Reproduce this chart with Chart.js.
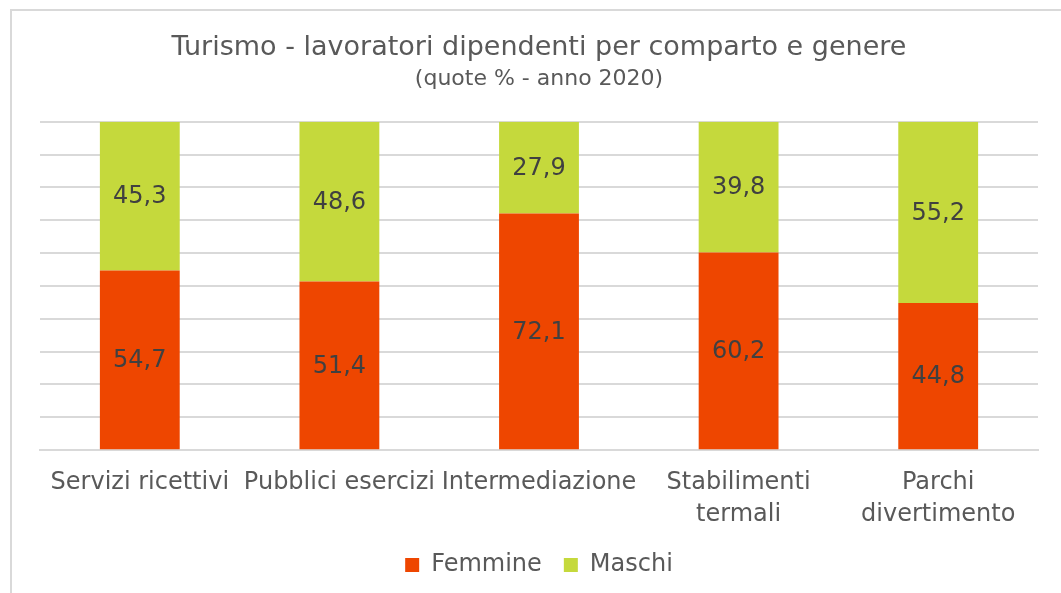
<!DOCTYPE html>
<html>
<head>
<meta charset="utf-8">
<script src="https://cdn.jsdelivr.net/npm/chart.js@4.4.1/dist/chart.umd.min.js"></script>
<style>
  html, body { margin: 0; padding: 0; background: #ffffff; overflow: hidden; width: 1061px; height: 593px; }
  #frame { position: absolute; left: 10px; top: 9px; width: 1200px; height: 700px; border-top: 2px solid #d9d9d9; border-left: 2px solid #d9d9d9; }
  #wrap { position: absolute; left: 0; top: 0; width: 1061px; height: 593px; }
</style>
</head>
<body>
<div id="frame"></div>
<div id="wrap"><canvas id="c" width="1061" height="593"></canvas></div>
<script>
const categories = ["Servizi ricettivi", "Pubblici esercizi", "Intermediazione", ["Stabilimenti", "termali"], ["Parchi", "divertimento"]];
const femmine = [54.7, 51.4, 72.1, 60.2, 44.8];
const maschi = [45.3, 48.6, 27.9, 39.8, 55.2];
const seriesNames = ["Femmine", "Maschi"];
const yTicks = [0, 10, 20, 30, 40, 50, 60, 70, 80, 90, 100];

const FONT = "'DejaVu Sans', Verdana, sans-serif";

const labelPlugin = {
  id: 'barLabels',
  afterDatasetsDraw(chart) {
    const ctx = chart.ctx;
    ctx.save();
    ctx.font = "24px " + FONT;
    ctx.fillStyle = "#404040";
    ctx.textAlign = "center";
    ctx.textBaseline = "middle";
    chart.data.datasets.forEach((ds, di) => {
      const meta = chart.getDatasetMeta(di);
      meta.data.forEach((bar, i) => {
        const v = ds.data[i];
        const yMid = (bar.y + bar.base) / 2;
        ctx.fillText(v.toFixed(1).replace('.', ','), bar.x, yMid + 1);
      });
    });
    ctx.restore();
  }
};

new Chart(document.getElementById('c'), {
  type: 'bar',
  data: {
    labels: categories,
    datasets: [
      { label: seriesNames[0], data: femmine, backgroundColor: '#ee4600', barPercentage: 0.4, categoryPercentage: 1.0 },
      { label: seriesNames[1], data: maschi, backgroundColor: '#c5d93c', barPercentage: 0.4, categoryPercentage: 1.0 }
    ]
  },
  options: {
    responsive: false,
    animation: false,
    layout: { padding: { left: 40, right: 23, top: 0, bottom: 6 } },
    plugins: {
      title: {
        display: true,
        text: "Turismo - lavoratori dipendenti per comparto e genere",
        color: '#595959',
        font: { family: FONT, size: 27, weight: 'normal' },
        padding: { top: 32, bottom: 2 }
      },
      subtitle: {
        display: true,
        text: "(quote % - anno 2020)",
        color: '#595959',
        font: { family: FONT, size: 22, weight: 'normal' },
        padding: { top: 0, bottom: 29 }
      },
      legend: {
        position: 'bottom',
        labels: {
          color: '#595959',
          font: { family: FONT, size: 24 },
          boxWidth: 14,
          boxHeight: 14,
          padding: 22
        }
      },
      tooltip: { enabled: false }
    },
    scales: {
      x: {
        stacked: true,
        grid: { display: false, drawTicks: false },
        border: { display: true, color: '#d9d9d9', width: 2 },
        ticks: { color: '#595959', font: { family: FONT, size: 24, lineHeight: 1.33 }, padding: 17, maxRotation: 0, autoSkip: false },
        afterFit(scale) { scale.height -= 17; }
      },
      y: {
        stacked: true,
        min: 0,
        max: 100,
        afterBuildTicks(axis) { axis.ticks = yTicks.map(v => ({ value: v })); },
        grid: { color: '#d9d9d9', lineWidth: 2, drawTicks: false },
        border: { display: false },
        ticks: { display: false }
      }
    }
  },
  plugins: [labelPlugin]
});
</script>
</body>
</html>
